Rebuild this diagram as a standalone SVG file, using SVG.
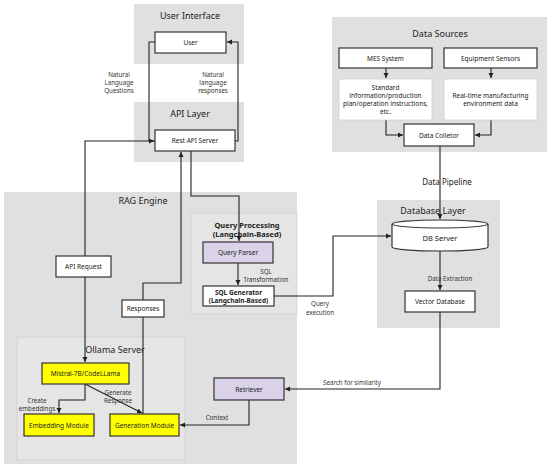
<svg xmlns="http://www.w3.org/2000/svg" width="550" height="469" viewBox="0 0 550 469">
<defs>
<marker id="ah" markerWidth="6" markerHeight="6" refX="5" refY="3" orient="auto" markerUnits="userSpaceOnUse">
<path d="M0,0.5 L5,3 L0,5.5 Z" fill="#222"/>
</marker>
<style>
.panel{fill:#e0e0e0;stroke:none}
.sub{fill:#e5e5e5;stroke:#cfcfcf;stroke-width:0.8}
.box{fill:#fff;stroke:#333;stroke-width:1.2}
.lbox{fill:#fff;stroke:#cfcfcf;stroke-width:0.8}
.pur{fill:#d9d2e9;stroke:#333;stroke-width:1.2}
.yel{fill:#ffff00;stroke:#333;stroke-width:1.2}
text{font-family:"Noto Sans","DejaVu Sans",sans-serif;fill:#222;text-anchor:middle}
.t{font-size:9px}
.b{font-size:6.5px}
.bb{font-size:6.5px;font-weight:bold}
.qb{font-size:7.5px;font-weight:bold}
.l{font-size:6.2px;fill:#333}
.c{fill:none;stroke:#222;stroke-width:1.1}
</style>
</defs>

<!-- panels -->
<g id="panels">
<rect class="panel" x="134" y="4" width="110" height="60"/>
<text class="t" x="190" y="19">User Interface</text>
<rect class="panel" x="134" y="102" width="110" height="60"/>
<text class="t" x="190" y="117">API Layer</text>
<rect class="panel" x="332" y="17" width="215" height="135"/>
<text class="t" x="440" y="37">Data Sources</text>
<rect class="panel" x="4" y="192" width="293" height="272"/>
<text class="t" x="143" y="204">RAG Engine</text>
<rect class="sub" x="191" y="213" width="106" height="101"/>
<text class="qb" x="247" y="227.5">Query Processing</text>
<text class="qb" x="247" y="237">(Langchain-Based)</text>
<rect class="panel" x="377" y="200" width="123" height="128"/>
<text class="t" x="433" y="214">Database Layer</text>
<rect class="sub" x="17" y="337" width="168" height="123"/>
<text class="t" x="115" y="353">Ollama Server</text>
</g>

<!-- connectors -->
<g id="connectors">
<path class="c" d="M155,42 H149 V141 H154" marker-end="url(#ah)"/>
<path class="c" d="M235,141 H238 V42 H227" marker-end="url(#ah)"/>
<path class="c" d="M155,141 H85 V362" marker-end="url(#ah)"/>
<path class="c" d="M191,151 V196 H239 V241" marker-end="url(#ah)"/>
<path class="c" d="M143,414 V283 H181 V152" marker-end="url(#ah)"/>
<path class="c" d="M238,263 V285" marker-end="url(#ah)"/>
<path class="c" d="M274,296 H333 V236 H391" marker-end="url(#ah)"/>
<path class="c" d="M440,146 V219" marker-end="url(#ah)"/>
<path class="c" d="M440,251 V290" marker-end="url(#ah)"/>
<path class="c" d="M440,312 V389 H285" marker-end="url(#ah)"/>
<path class="c" d="M249,400 V425 H180" marker-end="url(#ah)"/>
<path class="c" d="M85,384 V400 H59 V413" marker-end="url(#ah)"/>
<path class="c" d="M85,384 L142,413" marker-end="url(#ah)"/>
<path class="c" d="M386,68 V78" marker-end="url(#ah)"/>
<path class="c" d="M491,68 V78" marker-end="url(#ah)"/>
<path class="c" d="M386,120 V135 H403" marker-end="url(#ah)"/>
<path class="c" d="M491,120 V135 H475" marker-end="url(#ah)"/>
<text class="l" x="119" y="77">Natural</text>
<text class="l" x="119" y="85">Language</text>
<text class="l" x="119" y="93">Questions</text>
<text class="l" x="213" y="77">Natural</text>
<text class="l" x="213" y="85">language</text>
<text class="l" x="213" y="93">responses</text>
<text class="l" x="266" y="274">SQL</text>
<text class="l" x="266" y="282">Transformation</text>
<text class="l" x="320" y="306">Query</text>
<text class="l" x="320" y="315">execution</text>
<text class="t" x="447" y="185" style="font-size:8px">Data Pipeline</text>
<text class="l" x="450" y="281">Data Extraction</text>
<text class="l" x="352" y="385">Search for similarity</text>
<text class="l" x="217" y="420">Context</text>
<text class="l" x="37" y="403">Create</text>
<text class="l" x="37" y="411">embeddings</text>
<text class="l" x="118" y="395">Generate</text>
<text class="l" x="118" y="403">Response</text>
</g>

<g id="user"><rect class="box" x="155" y="32" width="71" height="21"/><text class="b" x="190.5" y="45">User</text></g>
<g id="rest-api"><rect class="box" x="155" y="130" width="80" height="21"/><text class="b" x="195" y="143">Rest API Server</text></g>
<g id="mes"><rect class="box" x="339" y="48" width="93" height="20"/><text class="b" x="385.5" y="60.5">MES System</text></g>
<g id="sensors"><rect class="box" x="444" y="48" width="93" height="20"/><text class="b" x="490.5" y="60.5">Equipment Sensors</text></g>
<g id="standard"><rect class="lbox" x="339" y="79" width="93" height="41"/>
<text class="b" x="385.5" y="90">Standard</text>
<text class="b" x="385.5" y="98">information/production</text>
<text class="b" x="385.5" y="106">plan/operation instructions,</text>
<text class="b" x="385.5" y="114">etc.</text></g>
<g id="realtime"><rect class="lbox" x="444" y="79" width="93" height="41"/>
<text class="b" x="490.5" y="98">Real-time manufacturing</text>
<text class="b" x="490.5" y="106">environment data</text></g>
<g id="collector"><rect class="box" x="404" y="124" width="70" height="22"/><text class="b" x="439" y="137.5">Data Colletor</text></g>
<g id="db-server"><path class="box" d="M392,224 A48,4 0 0 1 488,224 V247 A48,4 0 0 1 392,247 Z"/><path d="M392,224 A48,4 0 0 0 488,224" fill="none" stroke="#333" stroke-width="1"/><text class="b" x="440" y="241" style="font-size:7.5px">DB Server</text></g>
<g id="vector-db"><rect class="box" x="405" y="291" width="70" height="21"/><text class="b" x="440" y="304">Vector Database</text></g>
<g id="query-parser"><rect class="pur" x="203" y="242" width="70" height="21"/><text class="b" x="238" y="255">Query Parser</text></g>
<g id="sql-generator"><rect class="box" x="203" y="286" width="71" height="20"/><text class="bb" x="238.5" y="294.5">SQL Generator</text><text class="bb" x="238.5" y="302.5">(Langchain-Based)</text></g>
<g id="api-request"><rect class="box" x="56" y="256" width="55" height="21"/><text class="b" x="83.5" y="269">API Request</text></g>
<g id="responses"><rect class="box" x="122" y="300" width="42" height="17"/><text class="b" x="143" y="311">Responses</text></g>
<g id="mistral"><rect class="yel" x="42" y="363" width="87" height="21"/><text class="b" x="85.5" y="376">Mistral-7B/CodeLLama</text></g>
<g id="embedding"><rect class="yel" x="24" y="414" width="70" height="22"/><text class="b" x="59" y="427.5">Embedding Module</text></g>
<g id="generation"><rect class="yel" x="110" y="414" width="69" height="22"/><text class="b" x="144.5" y="427.5">Generation Module</text></g>
<g id="retriever"><rect class="pur" x="214" y="378" width="70" height="22"/><text class="b" x="249" y="391.5">Retriever</text></g>
</svg>
